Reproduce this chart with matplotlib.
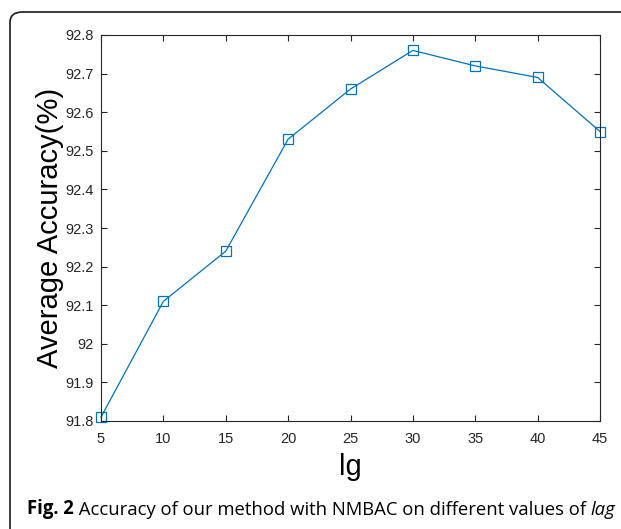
import matplotlib
matplotlib.use("Agg")
import matplotlib.pyplot as plt
from matplotlib.patches import FancyBboxPatch

# values
lag = [5, 10, 15, 20, 25, 30, 35, 40, 45]
accuracy = [91.81, 92.11, 92.24, 92.53, 92.66, 92.76, 92.72, 92.69, 92.55]
x_ticks = [5, 10, 15, 20, 25, 30, 35, 40, 45]
y_ticks = [91.8, 91.9, 92.0, 92.1, 92.2, 92.3, 92.4, 92.5, 92.6, 92.7, 92.8]
y_tick_labels = ["91.8", "91.9", "92", "92.1", "92.2", "92.3", "92.4", "92.5", "92.6", "92.7", "92.8"]

W, H = 621, 529
fig = plt.figure(figsize=(W / 100, H / 100), dpi=100)

# rounded frame around the figure panel (runs off right and bottom edges)
frame = FancyBboxPatch((10 / W, -0.2), 1.2, 1 - 12 / H + 0.2,
                       boxstyle="round,pad=0,rounding_size=0.02",
                       transform=fig.transFigure, fill=False,
                       edgecolor="#1a1a1a", linewidth=1.2)
fig.add_artist(frame)

# axes box in pixels: left 101, right 600, top 35, bottom 421
ax = fig.add_axes([101 / W, 1 - 421 / H, (600 - 101) / W, (421 - 35) / H])
ax.plot(lag, accuracy, color="#0072BD", linewidth=0.9, marker="s",
        markersize=6.5, markerfacecolor="none", markeredgecolor="#0072BD",
        markeredgewidth=0.9, clip_on=False)

ax.set_xlim(5, 45)
ax.set_ylim(91.8, 92.8)
ax.set_xticks(x_ticks)
ax.set_yticks(y_ticks)
ax.set_yticklabels(y_tick_labels)

for lbl in ax.get_xticklabels() + ax.get_yticklabels():
    lbl.set_fontfamily("Liberation Sans")
    lbl.set_fontsize(10.5)
    lbl.set_color("#262626")

ax.tick_params(direction="in", length=4.5, width=0.8, color="#262626",
               top=True, right=True)
ax.tick_params(axis="x", pad=8)
ax.tick_params(axis="y", pad=5)
for sp in ax.spines.values():
    sp.set_color("#262626")
    sp.set_linewidth(0.8)

ax.set_xlabel("lg", fontfamily="Liberation Sans", fontsize=21, labelpad=5)
ax.set_ylabel("Average Accuracy(%)", fontfamily="Liberation Sans", fontsize=21, labelpad=1)

# caption with bold / regular / italic parts chained together
cap = ax.annotate("Fig. 2", xy=(27 / W, 1 - 514 / H), xycoords=fig.transFigure,
                  fontfamily="Open Sans", fontsize=13.35, fontweight="bold",
                  va="baseline", annotation_clip=False)
cap2 = ax.annotate(" Accuracy of our method with NMBAC on different values of ",
                   xy=(1, 0), xycoords=cap, fontfamily="Open Sans", fontsize=13.35,
                   va="bottom", annotation_clip=False)
ax.annotate("lag", xy=(1, 0), xycoords=cap2, fontfamily="Open Sans", fontsize=13.35,
            fontstyle="italic", va="bottom", annotation_clip=False)

fig.savefig("out.png", dpi=100)
